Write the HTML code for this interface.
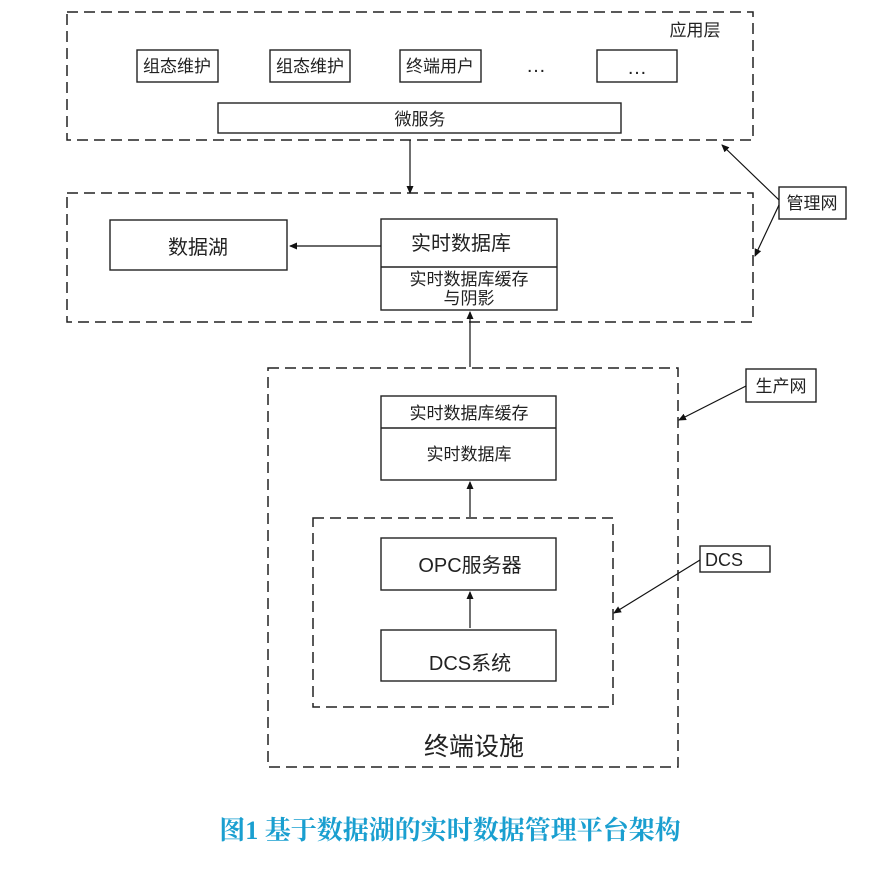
<!DOCTYPE html>
<html><head><meta charset="utf-8"><style>
body{margin:0;background:#fff;width:889px;height:872px;overflow:hidden}
svg text{font-family:"Liberation Sans","Noto Sans CJK SC",sans-serif;fill:#222}
</style></head><body>
<svg width="889" height="872" viewBox="0 0 889 872">
<defs><marker id="a" markerWidth="8" markerHeight="8" refX="7" refY="4" orient="auto" markerUnits="userSpaceOnUse"><path d="M0,0.5 L8,4 L0,7.5z" fill="#111"/></marker></defs>
<g fill="none" stroke="#222" stroke-width="1.5" stroke-dasharray="11,6">
<rect x="67" y="12" width="686" height="128"/>
<rect x="67" y="193" width="686" height="129"/>
<rect x="268" y="368" width="410" height="399"/>
<rect x="313" y="518" width="300" height="189"/>
</g>
<g fill="#fff" stroke="#222" stroke-width="1.4">
<rect x="137" y="50" width="81" height="32"/>
<rect x="270" y="50" width="80" height="32"/>
<rect x="400" y="50" width="81" height="32"/>
<rect x="597" y="50" width="80" height="32"/>
<rect x="218" y="103" width="403" height="30"/>
<rect x="110" y="220" width="177" height="50"/>
<rect x="381" y="219" width="176" height="91"/>
<line x1="381" y1="267" x2="557" y2="267"/>
<rect x="381" y="396" width="175" height="84"/>
<line x1="381" y1="428" x2="556" y2="428"/>
<rect x="381" y="538" width="175" height="52"/>
<rect x="381" y="630" width="175" height="51"/>
<rect x="779" y="187" width="67" height="32"/>
<rect x="746" y="369" width="70" height="33"/>
<rect x="700" y="546" width="70" height="26"/>
</g>
<g stroke="#111" stroke-width="1.2" marker-end="url(#a)">
<line x1="410" y1="140" x2="410" y2="193"/>
<line x1="381" y1="246" x2="290" y2="246"/>
<line x1="470" y1="367" x2="470" y2="312"/>
<line x1="470" y1="517" x2="470" y2="482"/>
<line x1="470" y1="628" x2="470" y2="592"/>
<line x1="779" y1="200" x2="722" y2="145"/>
<line x1="779" y1="205" x2="755" y2="256"/>
<line x1="746" y1="386" x2="679" y2="420"/>
<line x1="700" y1="560" x2="614" y2="613"/>
</g>
<g font-size="17" text-anchor="middle">
<text x="177" y="72">组态维护</text>
<text x="310" y="72">组态维护</text>
<text x="440" y="72">终端用户</text>
<text x="536" y="72" font-size="20">…</text>
<text x="637" y="74" font-size="20">…</text>
<text x="420" y="125">微服务</text>
<text x="695" y="36">应用层</text>
<text x="198" y="254" font-size="20">数据湖</text>
<text x="461" y="250" font-size="20">实时数据库</text>
<text x="469" y="285">实时数据库缓存</text>
<text x="469" y="304">与阴影</text>
<text x="812" y="209">管理网</text>
<text x="781" y="392">生产网</text>
<text x="724" y="566" font-size="18">DCS</text>
<text x="469" y="419">实时数据库缓存</text>
<text x="469" y="460">实时数据库</text>
<text x="470" y="572" font-size="20">OPC服务器</text>
<text x="470" y="670" font-size="20">DCS系统</text>
<text x="474" y="755" font-size="25">终端设施</text>
</g>
<text x="450" y="839" text-anchor="middle" font-size="26" font-weight="bold" style="fill:#1a9fd0;font-family:'Liberation Serif','Noto Serif CJK SC',serif">图1 基于数据湖的实时数据管理平台架构</text>
</svg>
</body></html>
